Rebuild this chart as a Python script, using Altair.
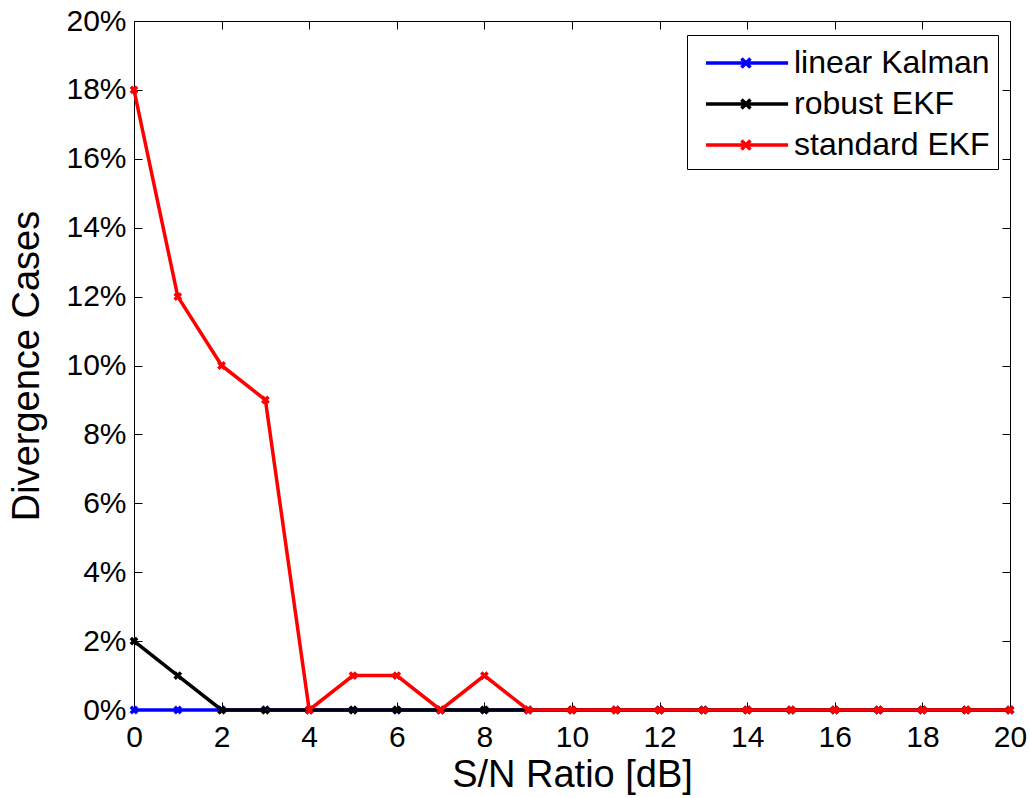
import altair as alt
import pandas as pd

# ---- data ----
snr_db = [0, 1, 2, 3, 4, 5, 6, 7, 8, 9, 10, 11, 12, 13, 14, 15, 16, 17, 18, 19, 20]
linear_kalman = [0, 0, 0, 0, 0, 0, 0, 0, 0, 0, 0, 0, 0, 0, 0, 0, 0, 0, 0, 0, 0]
robust_ekf = [2, 1, 0, 0, 0, 0, 0, 0, 0, 0, 0, 0, 0, 0, 0, 0, 0, 0, 0, 0, 0]
standard_ekf = [18, 12, 10, 9, 0, 1, 1, 0, 1, 0, 0, 0, 0, 0, 0, 0, 0, 0, 0, 0, 0]
series_names = ["linear Kalman", "robust EKF", "standard EKF"]
series_colors = ["#0000ff", "#000000", "#ff0000"]
x_ticks = [0, 2, 4, 6, 8, 10, 12, 14, 16, 18, 20]
y_ticks = [0, 2, 4, 6, 8, 10, 12, 14, 16, 18, 20]

rows = []
for name, vals in zip(series_names, [linear_kalman, robust_ekf, standard_ekf]):
    for x, v in zip(snr_db, vals):
        rows.append({"snr": x, "pct": v, "series": name})
df = pd.DataFrame(rows)

FONT = "Liberation Sans"
TICK = 8

xscale = alt.Scale(domain=[0, 20], nice=False, zero=False)
yscale = alt.Scale(domain=[0, 20], nice=False, zero=False)
cscale = alt.Scale(domain=series_names, range=series_colors)

x_axis = alt.Axis(
    values=x_ticks, title="S/N Ratio [dB]", domain=False, grid=False,
    tickSize=TICK, offset=-TICK, tickColor="black", tickWidth=1,
    labelPadding=12, labelFont=FONT, labelFontSize=30, labelColor="black",
    labelFlush=False, labelOverlap=False,
    titleFont=FONT, titleFontSize=38, titleFontWeight="normal",
    titleColor="black", titlePadding=4,
)
y_axis = alt.Axis(
    values=y_ticks, title="Divergence Cases", domain=False, grid=False,
    tickSize=TICK, offset=-TICK, tickColor="black", tickWidth=1,
    labelPadding=8, labelFont=FONT, labelFontSize=30, labelColor="black",
    labelExpr="datum.value + '%'", labelFlush=False, labelOverlap=False,
    titleFont=FONT, titleFontSize=38, titleFontWeight="normal",
    titleColor="black", titlePadding=19,
)

legend = alt.Legend(
    title=None, orient="none", legendX=553, legendY=14,
    symbolType="M-0.5,0L4.06,0M1.47,-0.25L1.97,0.25M1.47,0.25L1.97,-0.25",
    symbolSize=1296, symbolStrokeWidth=3.5, symbolFillColor="transparent",
    labelFont=FONT, labelFontSize=32, labelColor="black", labelOffset=59,
    labelLimit=400,
    padding=8, rowPadding=5, strokeColor="black", fillColor="white",
    cornerRadius=0,
)

base = alt.Chart(df)
layers = []
for name in series_names:
    enc = dict(
        x=alt.X("snr:Q", scale=xscale, axis=x_axis),
        y=alt.Y("pct:Q", scale=yscale, axis=y_axis),
        color=alt.Color("series:N", scale=cscale, legend=legend),
    )
    sub = base.transform_filter(alt.datum.series == name)
    layers.append(sub.mark_line(strokeWidth=3.5).encode(**enc))
    layers.append(
        sub.mark_point(
            shape="M-1,-1L1,1M-1,1L1,-1", filled=False, size=40,
            strokeWidth=3.5, opacity=1,
        ).encode(**enc)
    )

main = alt.layer(*layers)

top_axis = alt.Axis(
    orient="top", values=x_ticks, title=None, labels=False, domain=False,
    grid=False, tickSize=TICK, offset=-TICK, tickColor="black", tickWidth=1,
)
right_axis = alt.Axis(
    orient="right", values=y_ticks, title=None, labels=False, domain=False,
    grid=False, tickSize=TICK, offset=-TICK, tickColor="black", tickWidth=1,
)
mirror = base.mark_point(opacity=0).encode(
    x=alt.X("snr:Q", scale=xscale, axis=top_axis),
    y=alt.Y("pct:Q", scale=yscale, axis=right_axis),
)

chart = (
    alt.layer(main, mirror)
    .resolve_axis(x="independent", y="independent")
    .properties(
        width=876, height=689,
        autosize=alt.AutoSizeParams(type="none"),
        padding={"left": 134, "top": 21, "right": 20, "bottom": 88},
        background="white",
    )
    .configure_view(stroke="black", strokeWidth=1)
)

chart.save("out.html", embed_options={"renderer": "svg", "actions": False})
